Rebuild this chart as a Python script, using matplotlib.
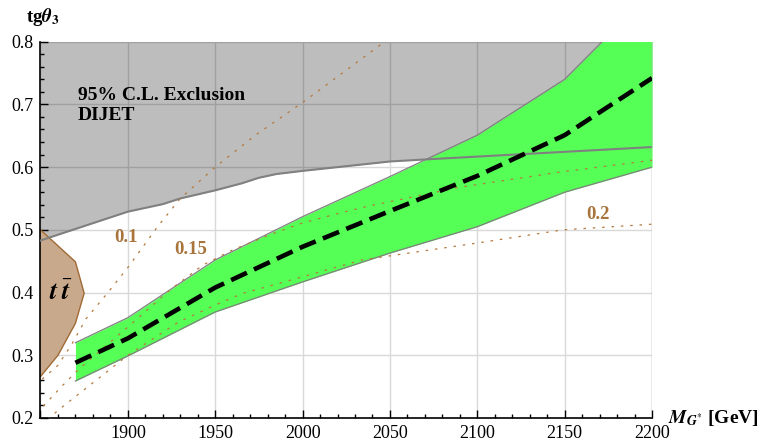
import numpy as np
import matplotlib.pyplot as plt
from matplotlib.ticker import MultipleLocator, FormatStrFormatter

plt.rcParams['font.family'] = ['Liberation Serif', 'DejaVu Serif']
plt.rcParams['mathtext.fontset'] = 'stix'

# dijet 95% CL exclusion, lower edge
excl_m = [1850, 1900, 1920, 1930, 1950, 1965, 1975, 1985, 2000, 2050, 2075, 2200]
excl_tg = [0.483, 0.529, 0.541, 0.550, 0.563, 0.574, 0.583, 0.589, 0.594, 0.609, 0.613, 0.632]

# ttbar excluded region (outline)
tt_m = [1840, 1850, 1870, 1875, 1870, 1860, 1850, 1840]
tt_tg = [0.50, 0.50, 0.449, 0.399, 0.351, 0.300, 0.266, 0.266]

# preferred band and its central line
band_m = [1870, 1900, 1950, 2000, 2050, 2100, 2150, 2200]
band_lo = [0.259, 0.299, 0.369, 0.417, 0.463, 0.505, 0.560, 0.600]
band_hi = [0.320, 0.360, 0.452, 0.521, 0.585, 0.651, 0.740, 0.880]
band_mid = [0.288, 0.327, 0.408, 0.473, 0.530, 0.586, 0.651, 0.742]

# width/mass contours
w10_m = [1851, 1860, 1868, 1876, 1888, 1900, 1917, 1930, 1950, 1973, 2000, 2047, 2060]
w10_tg = [0.262, 0.284, 0.318, 0.358, 0.398, 0.440, 0.505, 0.550, 0.600, 0.651, 0.703, 0.800, 0.825]
w15_m = [1848, 1862, 1872, 1900, 1924, 1943, 1960, 1981, 2000, 2023, 2038, 2090, 2147, 2200]
w15_tg = [0.208, 0.250, 0.278, 0.345, 0.404, 0.444, 0.468, 0.492, 0.511, 0.528, 0.538, 0.568, 0.592, 0.611]
w20_m = [1850, 1855, 1860, 1869, 1900, 1929, 1950, 1966, 1987, 2010, 2034, 2100, 2149, 2200]
w20_tg = [0.188, 0.200, 0.212, 0.232, 0.300, 0.353, 0.380, 0.399, 0.415, 0.433, 0.452, 0.479, 0.500, 0.509]
w_labels = ['0.1', '0.15', '0.2']
w_label_pos = [(1899, 0.488), (1936, 0.468), (2169, 0.524)]

fig = plt.figure(figsize=(7.61, 4.45), dpi=100)
ax = fig.add_axes([0.0532, 0.0607, 0.8568 - 0.0532, 0.9063 - 0.0607])

ax.set_xlim(1850, 2200)
ax.set_ylim(0.2, 0.8)
ax.grid(True, color='#d9d9d9', lw=1.0, zorder=0)
ax.set_axisbelow(True)

ax.fill_between(excl_m, excl_tg, 0.9, color='black', alpha=0.26, lw=0, zorder=1)
ax.fill(tt_m, tt_tg, facecolor='#c9a98b', edgecolor='#a06a35', lw=1.0, zorder=1)

ax.fill_between(band_m, band_lo, band_hi, color='#55ff55', lw=0, zorder=2)
ax.plot(band_m, band_lo, color='#808080', lw=0.9, zorder=2.5)
ax.plot(band_m, band_hi, color='#808080', lw=0.9, zorder=2.5)

ax.plot(excl_m, excl_tg, color='#808080', lw=1.5, zorder=3)
ax.axvline(2200, color='#b4b4b4', lw=1.0, zorder=3)

for m, tg in [(w10_m, w10_tg), (w15_m, w15_tg), (w20_m, w20_tg)]:
    ax.plot(m, tg, color='#b5793f', lw=0.9, dashes=(2, 5.5), zorder=3.5)
for lab, (xm, yt) in zip(w_labels, w_label_pos):
    ax.text(xm, yt, lab, color='#a8743c', fontsize=13.5, fontweight='bold',
            ha='center', va='center', zorder=5)

ax.plot(band_m, band_mid, color='black', lw=3.3, dashes=(3.8, 1.7), zorder=4)

ax.text(1871.5, 0.707, '95% C.L. Exclusion', fontsize=14, fontweight='bold',
        ha='left', va='baseline', zorder=5)
ax.text(1871.5, 0.675, 'DIJET', fontsize=14, fontweight='bold',
        ha='left', va='baseline', zorder=5)
ax.text(1862, 0.400, r'$\mathbfit{t}\;\bar{\mathbfit{t}}$', fontsize=19,
        ha='center', va='center', zorder=5)

ax.xaxis.set_major_locator(MultipleLocator(50))
ax.xaxis.set_minor_locator(MultipleLocator(10))
ax.yaxis.set_major_locator(MultipleLocator(0.1))
ax.yaxis.set_minor_locator(MultipleLocator(0.02))
ax.yaxis.set_major_formatter(FormatStrFormatter('%.1f'))
ax.set_xticks([1850, 1900, 1950, 2000, 2050, 2100, 2150, 2200])
ax.set_xticklabels(['', '1900', '1950', '2000', '2050', '2100', '2150', '2200'])
ax.tick_params(which='both', direction='in', width=1.0, labelsize=13, pad=5)
ax.tick_params(which='major', length=5.5)
ax.tick_params(which='minor', length=3)

for s in ['top', 'right']:
    ax.spines[s].set_visible(False)
for s in ['left', 'bottom']:
    ax.spines[s].set_linewidth(1.2)

ax.text(1.026, 0.0, r'$\mathbfit{M}_{\mathbfit{G}^{*}}$ [GeV]', transform=ax.transAxes,
        fontsize=14, fontweight='bold', ha='left', va='center')
ax.text(-0.024, 1.066, r'tg$\mathbfit{\theta}_{\mathbf{3}}$', transform=ax.transAxes,
        fontsize=13.5, fontweight='bold', ha='left', va='center')

fig.savefig('out.png', dpi=100)
